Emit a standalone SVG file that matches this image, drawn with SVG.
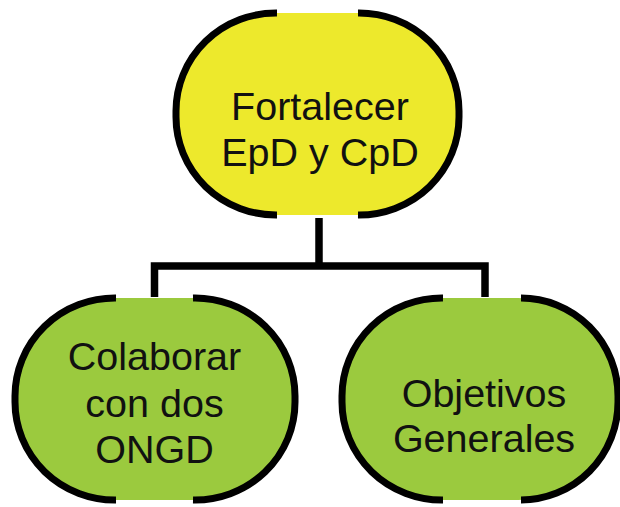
<svg xmlns="http://www.w3.org/2000/svg" width="620" height="507" viewBox="0 0 620 507">
<style>
.yl{fill:#EDE92C}
.gr{fill:#9BCA3E}
.bd{fill:none;stroke:#000;stroke-width:7}
.cn{fill:none;stroke:#000;stroke-width:7.5}
text{font-family:"Liberation Sans",Arial,sans-serif;font-size:39.5px;fill:#111;text-anchor:middle}
</style>
<rect width="620" height="507" fill="#fff"/>
<g id="connectors">
<path class="cn" d="M319,218 V266"/>
<path class="cn" d="M154.5,297 V266 H485 V297"/>
</g>
<g id="node-top">
<rect class="yl" x="176" y="13" width="283" height="202" rx="100" ry="98"/>
<path class="bd" d="M277,13 A100,98 0 0 0 176,111 V117 A100,98 0 0 0 277,215"/>
<path class="bd" d="M358,13 A100,98 0 0 1 459,111 V117 A100,98 0 0 1 358,215"/>
<text x="320" y="120">Fortalecer</text>
<text x="320" y="166">EpD y CpD</text>
</g>
<g id="node-left">
<rect class="gr" x="15" y="298" width="280" height="202" rx="100" ry="98"/>
<path class="bd" d="M116,298 A100,98 0 0 0 15,396 V402 A100,98 0 0 0 116,500"/>
<path class="bd" d="M193,298 A100,98 0 0 1 295,396 V402 A100,98 0 0 1 193,500"/>
<text x="154.5" y="370">Colaborar</text>
<text x="154.5" y="417">con dos</text>
<text x="154.5" y="463">ONGD</text>
</g>
<g id="node-right">
<rect class="gr" x="342" y="298" width="276" height="202" rx="100" ry="98"/>
<path class="bd" d="M443,298 A100,98 0 0 0 342,396 V402 A100,98 0 0 0 443,500"/>
<path class="bd" d="M521,298 A97,98 0 0 1 618,396 V402 A97,98 0 0 1 521,500"/>
<text x="484" y="407">Objetivos</text>
<text x="484" y="452">Generales</text>
</g>
</svg>
